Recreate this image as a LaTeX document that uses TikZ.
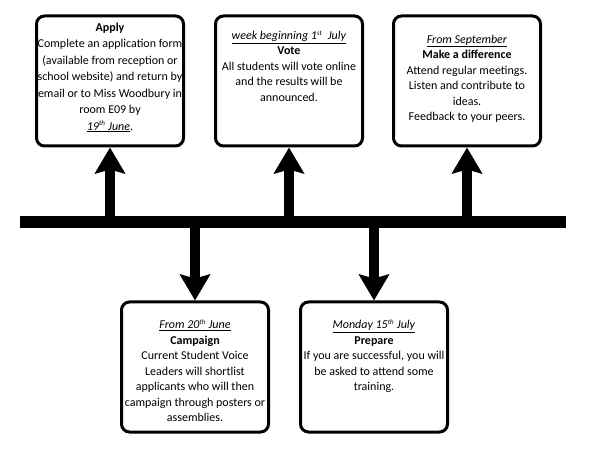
\documentclass[tikz,border=0pt]{standalone}
\usepackage{fontspec}
\setmainfont{Carlito}
\usetikzlibrary{arrows.meta,positioning}
\newcommand{\when}[1]{\underline{\textit{#1}}}
\newcommand{\ordsup}[1]{\textsuperscript{\scriptsize #1}}
\tikzset{card/.style={draw,line width=3pt,rounded corners=8pt,minimum width=147pt,minimum height=130pt,inner sep=0pt},
 blurb/.style={align=center,font=\fontsize{12}{15.5}\selectfont,inner sep=0pt},
 bar/.style={fill=black,minimum width=546pt,minimum height=12pt,inner sep=0pt},
 stem/.style={line width=10pt,-{Stealth[length=26pt,width=30pt,inset=4pt]}}}

\begin{document}
\begin{tikzpicture}[x=1pt,y=-1pt]
\useasboundingbox (0,0) rectangle (592,462);
% timeline
\node[bar] (line) at (293,222) {};
% boxes above the line
\node[card] (apply) at (110,81) {};
\node[card] (vote) at (289,81) {};
\node[card] (diff) at (467,81) {};
% boxes below the line
\node[card] (camp) at (195,367) {};
\node[card] (prep) at (374,367) {};
% texts
\node[blurb,font=\fontsize{12}{16.5}\selectfont,below=8pt of apply.north] (applyt) {\textbf{Apply}\\Complete an application form\\(available from reception or\\school website) and return by\\email or to Miss Woodbury in\\room E09 by\\\when{19\ordsup{th} June}.};
\node[blurb,below=16pt of vote.north] (votet) {\when{week beginning 1\ordsup{st}\ \ July}\\\textbf{Vote}\\All students will vote online\\and the results will be\\announced.};
\node[blurb,below=20pt of diff.north] (difft) {\when{From September}\\\textbf{Make a difference}\\Attend regular meetings.\\Listen and contribute to\\ideas.\\Feedback to your peers.};
\node[blurb,below=19pt of camp.north] (campt) {\when{From 20\ordsup{th} June}\\\textbf{Campaign}\\Current Student Voice\\Leaders will shortlist\\applicants who will then\\campaign through posters or\\assemblies.};
\node[blurb,below=19pt of prep.north] (prept) {\when{Monday 15\ordsup{th} July}\\\textbf{Prepare}\\If you are successful, you will\\be asked to attend some\\training.};
% arrows
\foreach \b in {apply,vote,diff}{\draw[stem] (line.north -| \b.south)--(\b.south);}
\foreach \b in {camp,prep}{\draw[stem] (line.south -| \b.north)--(\b.north);}
\end{tikzpicture}
\end{document}
